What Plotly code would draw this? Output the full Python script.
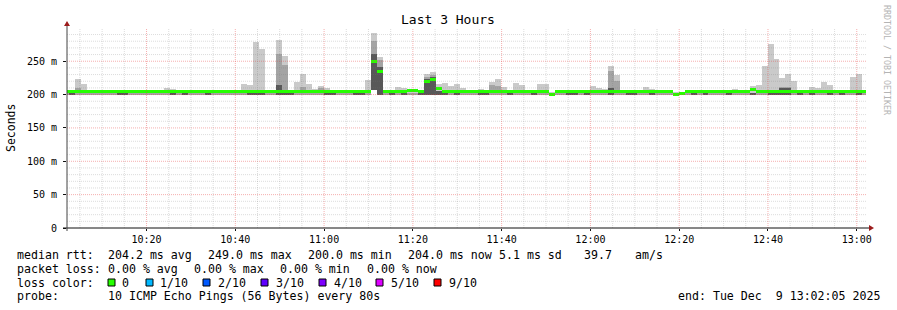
import plotly.graph_objects as go
import pandas as pd

# ---------------- data (values in milliseconds) ----------------
step_start = "2025-12-09 10:01:15"
step_seconds = 80
range_start = "2025-12-09 10:02:05"
range_end = "2025-12-09 13:02:05"

median_ms = [
    204, 204, 204, 204, 204, 204, 204, 204, 204, 204,
    204, 204, 204, 204, 204, 204, 204, 204, 204, 204,
    204, 204, 204, 204, 204, 204, 204, 204, 204, 204,
    204, 204, 204, 204, 204, 204, 204, 204, 204, 204,
    204, 204, 204, 204, 204, 204, 204, 204, 204, 204,
    204, 204, 249, 235, 204, 204, 204, 204, 206, 206,
    204, 220, 222, 209, 204, 204, 204, 204, 204, 204,
    204, 204, 204, 204, 204, 204, 204, 204, 204, 204,
    204, 204, 200.5, 204, 204, 204, 204, 204, 204, 204,
    204, 204, 204, 204, 204, 204, 204, 204, 204, 204,
    204, 204, 204, 200.5, 202, 204, 204, 204, 204, 204,
    204, 204, 204, 204, 204, 204, 207, 204, 204, 204,
    204, 204, 204, 204, 204, 204, 204, 204, 204, 204,
    204, 204, 204, 204, 204, 204,
]

smoke_top_ms = [
    204.5, 204.5, 223.5, 216, 204.5, 207, 204.5, 204.5, 207, 204.5,
    207, 204.5, 207, 207, 204.5, 204.5, 204.5, 210, 208.5, 204.5,
    204.5, 204.5, 207, 204.5, 204.5, 204.5, 207, 207, 207, 204.5,
    216, 214.5, 279, 268.5, 207, 207, 282, 258, 205, 219,
    231, 216, 208, 213, 210, 204.5, 207, 207, 204.5, 204.5,
    204.5, 222, 292.5, 256.5, 204.5, 204.5, 211.5, 210, 207, 207,
    204.5, 231, 234, 216, 217.5, 213, 216, 210, 207, 204.5,
    208.5, 207, 219, 223.5, 211.5, 204.5, 217.5, 214.5, 207, 204.5,
    216, 216, 204.5, 204.5, 204.5, 205, 205, 204.5, 204.5, 213,
    210, 208, 243, 229.5, 204.5, 204.5, 204.5, 205, 211, 209,
    204.5, 204.5, 204.5, 204.5, 204.5, 204.5, 204.5, 204.5, 207, 204.5,
    204.5, 207, 204.5, 208.5, 204.5, 204.5, 213, 214.5, 243, 276,
    253.5, 225, 231, 220.5, 204.5, 204.5, 211.5, 210, 219, 214.5,
    206, 207, 207, 226.5, 231, 204.5,
]

smoke_mid_ms = [
    201.5, 201.5, 210, 207, 201.5, 201.5, 201.5, 201.5, 201.5, 201.5,
    201.5, 201.5, 201.5, 201.5, 201.5, 201.5, 201.5, 207, 201.5, 201.5,
    201.5, 201.5, 201.5, 201.5, 201.5, 201.5, 201.5, 201.5, 201.5, 201.5,
    201.5, 201.5, 201.5, 201.5, 201.5, 201.5, 261, 244.5, 201.5, 201.5,
    212, 201.5, 201.5, 210, 201.5, 201.5, 201.5, 201.5, 201.5, 201.5,
    201.5, 201.5, 281, 252, 201.5, 201.5, 201.5, 201.5, 201.5, 201.5,
    201.5, 226, 230, 201.5, 201.5, 201.5, 201.5, 201.5, 201.5, 201.5,
    201.5, 201.5, 214.5, 213, 207, 201.5, 201.5, 201.5, 201.5, 201.5,
    201.5, 201.5, 201.5, 201.5, 201.5, 201.5, 201.5, 201.5, 201.5, 201.5,
    201.5, 201.5, 236, 220, 201.5, 201.5, 201.5, 201.5, 201.5, 201.5,
    201.5, 201.5, 201.5, 201.5, 201.5, 201.5, 201.5, 201.5, 201.5, 201.5,
    201.5, 201.5, 201.5, 201.5, 201.5, 201.5, 201.5, 201.5, 201.5, 201.5,
    201.5, 211, 211, 201.5, 201.5, 201.5, 201.5, 201.5, 201.5, 201.5,
    201.5, 201.5, 201.5, 201.5, 201.5, 201.5,
]

smoke_dark_ms = [
    199.5, 201.8, 199.5, 199.5, 199.5, 199.5, 199.5, 199.5, 199.5, 201.8,
    201.8, 199.5, 199.5, 199.5, 199.5, 199.5, 199.5, 199.5, 201.8, 199.5,
    201.8, 199.5, 199.5, 199.5, 201.8, 199.5, 199.5, 199.5, 199.5, 199.5,
    199.5, 201.8, 201.8, 201.8, 199.5, 199.5, 215, 205, 201.8, 199.5,
    199.5, 199.5, 199.5, 199.5, 201.8, 201.8, 199.5, 199.5, 199.5, 201.8,
    201.8, 199.5, 261, 241, 199.5, 201.8, 199.5, 201.8, 199.5, 199.5,
    201.8, 224, 226, 206, 201.8, 199.5, 201.8, 199.5, 199.5, 199.5,
    201.8, 201.8, 199.5, 199.5, 199.5, 201.8, 199.5, 199.5, 199.5, 201.8,
    199.5, 199.5, 201.8, 199.5, 199.5, 201.8, 201.8, 199.5, 201.8, 199.5,
    199.5, 199.5, 210, 199.5, 199.5, 201.8, 201.8, 199.5, 199.5, 201.8,
    199.5, 199.5, 199.5, 201.8, 199.5, 199.5, 201.8, 199.5, 201.8, 199.5,
    199.5, 199.5, 201.8, 199.5, 199.5, 199.5, 201.8, 199.5, 199.5, 201.8,
    201.8, 210, 210, 199.5, 201.8, 199.5, 201.8, 199.5, 199.5, 201.8,
    199.5, 201.8, 199.5, 199.5, 201.8, 199.5,
]

smoke_low_ms = [199.5] * 52 + [207] + [199.5] * 83

y_tick_values = [0, 0.05, 0.10, 0.15, 0.20, 0.25]
y_tick_labels = ["0", "50 m", "100 m", "150 m", "200 m", "250 m"]

loss_labels = ["0", "1/10", "2/10", "3/10", "4/10", "5/10", "9/10"]
loss_colors = ["#26ff00", "#00b8ff", "#0059ff", "#5e00ff", "#7e00ff", "#dd00ff", "#ff0000"]

stats_rtt = ["median rtt:", "204.2 ms avg", "249.0 ms max", "200.0 ms min",
             "204.0 ms now", "5.1 ms sd", "39.7", "am/s"]
stats_loss = ["packet loss:", "0.00 % avg", "0.00 % max", "0.00 % min", "0.00 % now"]
probe_text = ["probe:", "10 ICMP Echo Pings (56 Bytes) every 80s"]
end_text = "end: Tue Dec\u00a0\u00a09 13:02:05 2025"

# ---------------- geometry ----------------
W, H = 897, 310
L, R, T, B = 67, 866, 28, 228
MONO = "DejaVu Sans Mono"


def px(x):
    return (x - L) / (R - L)


def py(y):
    return (B - y) / (B - T)


n = len(median_ms)
t0 = pd.Timestamp(step_start)
centers = [t0 + pd.Timedelta(seconds=step_seconds * k + step_seconds / 2) for k in range(n)]
bar_w = step_seconds * 1000

fig = go.Figure()


def band(lo, hi, color):
    base = [a / 1000 for a in lo]
    h = [max(b - a, 0) / 1000 for a, b in zip(lo, hi)]
    fig.add_trace(go.Bar(x=centers, y=h, base=base, width=bar_w,
                         marker=dict(color=color, line=dict(width=0)),
                         hoverinfo="skip", showlegend=False))


band(smoke_low_ms, smoke_top_ms, "#cacaca")
band(smoke_low_ms, smoke_mid_ms, "#a4a4a4")
band(smoke_low_ms, smoke_dark_ms, "#585858")
band([m - 2.2 for m in median_ms], [m + 2.2 for m in median_ms], "#26ff00")

shapes = []
# gridlines above traces (dotted)
minor_col = "rgba(120,120,120,0.26)"
major_col = "rgba(232,64,64,0.42)"
for i in range(1, 30):
    v = i * 0.01
    col = major_col if i % 5 == 0 else minor_col
    shapes.append(dict(type="line", xref="paper", yref="y", x0=0, x1=1, y0=v, y1=v,
                       line=dict(color=col, width=1, dash="1px,1px"), layer="above"))
gt = pd.Timestamp("2025-12-09 10:05:00")
while gt <= pd.Timestamp(range_end):
    col = major_col if gt.minute % 20 == 0 else minor_col
    shapes.append(dict(type="line", xref="x", yref="paper", x0=gt, x1=gt, y0=0, y1=1,
                       line=dict(color=col, width=1, dash="1px,1px"), layer="above"))
    gt += pd.Timedelta(minutes=5)

# axis lines + arrows
shapes.append(dict(type="line", xref="paper", yref="paper", x0=px(63), x1=px(870), y0=0, y1=0,
                   line=dict(color="#111111", width=1), layer="above"))
shapes.append(dict(type="line", xref="paper", yref="paper", x0=0, x1=0, y0=py(231), y1=py(24),
                   line=dict(color="#444444", width=1), layer="above"))
shapes.append(dict(type="path", xref="paper", yref="paper",
                   path=f"M {px(869)},{py(225)} L {px(874)},{py(228)} L {px(869)},{py(231)} Z",
                   fillcolor="#9c1c1c", line=dict(width=0), layer="above"))
shapes.append(dict(type="path", xref="paper", yref="paper",
                   path=f"M {px(64)},{py(26)} L {px(67)},{py(21)} L {px(70)},{py(26)} Z",
                   fillcolor="#9c1c1c", line=dict(width=0), layer="above"))

# loss colour squares
sq_x = [108, 146, 203, 261, 319, 376, 434]
for xx, c in zip(sq_x, loss_colors):
    shapes.append(dict(type="rect", xref="paper", yref="paper",
                       x0=px(xx), x1=px(xx + 7), y0=py(286), y1=py(279),
                       fillcolor=c, line=dict(color="#000000", width=1)))

ann = []


def text(x, y, s, size=11.6, color="#000000", anchor="left", angle=0):
    ann.append(dict(xref="paper", yref="paper", x=px(x), y=py(y), text=s.replace(" ", "\u00a0"),
                    showarrow=False, xanchor=anchor, yanchor="middle", textangle=angle,
                    font=dict(family=MONO, size=size, color=color), borderpad=0))


text(448, 19, "Last 3 Hours", size=13, anchor="center")
text(11, 128, "Seconds", size=11.5, anchor="center", angle=-90)
text(887, 60, "RRDTOOL / TOBI OETIKER", size=8.3, color="#b4b4b4", anchor="center", angle=90)

rtt_x = [16, 107, 207, 307, 407, 498, 582.5, 634]
for xx, s in zip(rtt_x, stats_rtt):
    text(xx, 255, s)
loss_x = [16, 107, 193, 279, 365.5]
for xx, s in zip(loss_x, stats_loss):
    text(xx, 268.5, s)
text(16, 282.5, "loss color:")
lab_x = [121, 159, 217, 275, 333, 390, 448]
for xx, s in zip(lab_x, loss_labels):
    text(xx, 282.5, s)
text(16, 296, probe_text[0])
text(107, 296, probe_text[1])
text(881, 296, end_text, anchor="right")

fig.update_layout(
    width=W, height=H,
    margin=dict(l=L, r=W - R, t=T, b=H - B, pad=0),
    paper_bgcolor="#ffffff", plot_bgcolor="#ffffff",
    barmode="overlay", bargap=0,
    showlegend=False,
    shapes=shapes, annotations=ann,
    xaxis=dict(type="date", range=[range_start, range_end],
               tickmode="linear", tick0="2025-12-09 10:00:00", dtick=20 * 60 * 1000,
               tickformat="%H:%M", showgrid=False, zeroline=False, showline=False,
               ticks="outside", ticklen=2, tickcolor="#111111",
               tickfont=dict(family=MONO, size=10, color="#000000")),
    yaxis=dict(range=[0, 0.2998], tickmode="array", tickvals=y_tick_values,
               ticktext=y_tick_labels, showgrid=False, zeroline=False, showline=False,
               ticks="outside", ticklen=3, tickcolor="#111111", ticklabelstandoff=4,
               tickfont=dict(family=MONO, size=10, color="#000000")),
)

fig.write_html("out.html")
